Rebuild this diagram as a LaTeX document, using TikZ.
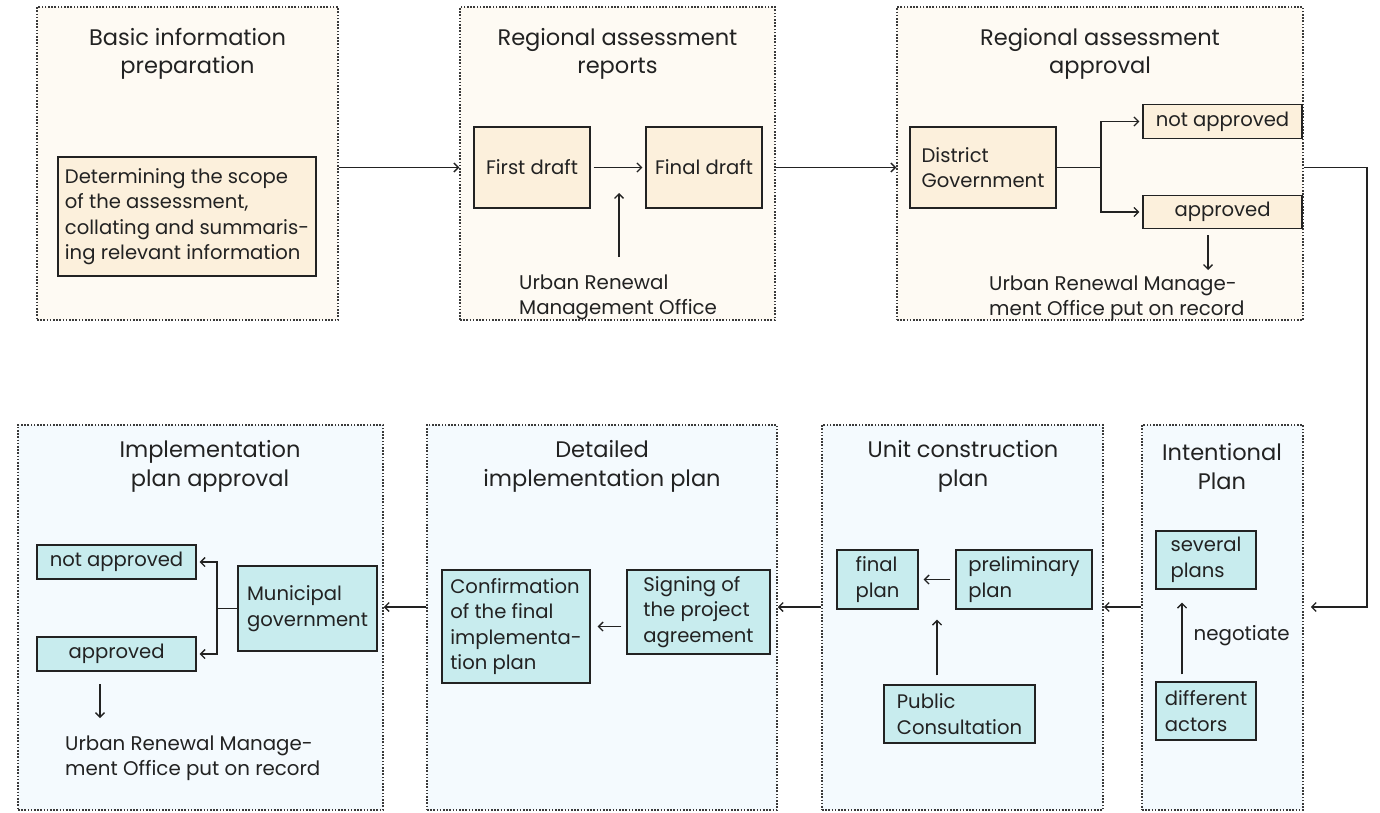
\documentclass[tikz,border=0pt]{standalone}
\usepackage{fontspec}
\setmainfont{Poppins}
\usetikzlibrary{arrows.meta,calc}
\definecolor{panelwarm}{HTML}{FEFAF3}
\definecolor{boxwarm}{HTML}{FCF0DC}
\definecolor{panelcool}{HTML}{F4FAFE}
\definecolor{boxcool}{HTML}{C8ECEE}
\definecolor{ink}{HTML}{222222}
\definecolor{dotink}{HTML}{3A3A3A}
\tikzset{
  panel/.style={draw=dotink, line width=1.5pt, dash pattern=on 1.6pt off 1.6pt,
    inner sep=0pt, minimum width=#1},
  warmpanel/.style={panel=#1, fill=panelwarm, minimum height=313pt},
  coolpanel/.style={panel=#1, fill=panelcool, minimum height=385pt},
  ptitle/.style={align=center, text=ink, font=\fontsize{22.5}{28.5}\selectfont, inner sep=0pt},
  boxbase/.style={draw=ink, line width=1.3pt, align=left, text=ink,
    font=\fontsize{19.6}{25.5}\selectfont, inner sep=0pt},
  warmbox/.style={boxbase, fill=boxwarm},
  coolbox/.style={boxbase, fill=boxcool},
  note/.style={align=left, text=ink, font=\fontsize{19.8}{25}\selectfont, inner sep=0pt},
  arr/.style={draw=ink, line width=1.3pt, -{Straight Barb[length=4.5pt,width=9pt]}},
  link/.style={draw=ink, line width=1.3pt},
}
\begin{document}
\begin{tikzpicture}[x=1pt,y=-1pt]
\useasboundingbox (0,0) rectangle (1380,812);

% ---- upper row of stages ----
\node[warmpanel=301pt] (p1) at (187.5,163.5) {};
\node[warmpanel=315pt] (p2) at (617.5,163.5) {};
\node[warmpanel=406pt] (p3) at (1100,163.5) {};

\node[ptitle] (t1) at (187.5,54) {Basic information\\preparation};
\node[ptitle] (t2) at (617.5,54) {Regional assessment\\reports};
\node[ptitle] (t3) at (1100,54) {Regional assessment\\approval};

\node[warmbox, minimum width=258pt, minimum height=119pt] (scope) at (187,216.5)
  {Determining the scope\\of the assessment,\\collating and summaris-\\ing relevant information};

\node[warmbox, minimum width=116pt, minimum height=81pt] (first) at (532,167.5) {First draft};
\node[warmbox, minimum width=116pt, minimum height=81pt] (final) at (704,167.5) {Final draft};
\node[note, anchor=west] (urmo) at (519,297.5) {Urban Renewal\\Management Office};

\node[warmbox, minimum width=146pt, minimum height=81pt] (dg) at (983,167.5) {District\\Government};
\node[warmbox, minimum width=159pt, minimum height=34pt] (na1) at (1222.5,121.5) {not approved};
\node[warmbox, minimum width=159pt, minimum height=33pt] (ap1) at (1222.5,212) {approved};
\node[note, anchor=west] (rec1) at (989,298) {Urban Renewal Manage-\\ment Office put on record};

% ---- lower row of stages ----
\node[coolpanel=365pt] (qa) at (200.5,617.5) {};
\node[coolpanel=350pt] (qb) at (602,617.5) {};
\node[coolpanel=281pt] (qc) at (962.5,617.5) {};
\node[coolpanel=161pt] (qd) at (1222.5,617.5) {};

\node[ptitle] (ta) at (210,466.5) {Implementation\\plan approval};
\node[ptitle] (tb) at (602,466.5) {Detailed\\implementation plan};
\node[ptitle] (tc) at (963,466.5) {Unit construction\\plan};
\node[ptitle] (td) at (1222,466.5) {Intentional\\Plan};

\node[coolbox, minimum width=100pt, minimum height=58pt] (sev) at (1206,560) {several\\plans};
\node[coolbox, minimum width=100pt, minimum height=58pt] (act) at (1206,711) {different\\actors};

\node[coolbox, minimum width=81pt, minimum height=59pt] (fp) at (877.5,579.5) {final\\plan};
\node[coolbox, minimum width=136pt, minimum height=59pt] (pp) at (1024,579.5) {preliminary\\plan};
\node[coolbox, minimum width=151pt, minimum height=58pt] (pc) at (959.5,714) {Public\\Consultation};

\node[coolbox, minimum width=148pt, minimum height=113pt] (conf) at (516,626.5)
  {Confirmation\\of the final\\implementa-\\tion plan};
\node[coolbox, minimum width=143pt, minimum height=84pt] (sign) at (698.5,612)
  {Signing of\\the project\\agreement};

\node[coolbox, minimum width=139pt, minimum height=85pt] (mg) at (307.5,608.5) {Municipal\\government};
\node[coolbox, minimum width=159pt, minimum height=34pt] (na2) at (116.5,562) {not approved};
\node[coolbox, minimum width=159pt, minimum height=34pt] (ap2) at (116.5,654) {approved};
\node[note, anchor=west] (rec2) at (65,758) {Urban Renewal Manage-\\ment Office put on record};

% ---- helper points for connectors ----
\coordinate (lowrow) at (0,607);
\coordinate (return) at (1367,0);
\coordinate (fork1) at (1101,167.5);
\coordinate (fork2) at (217,608.5);
\coordinate (urmoA) at (619,257);
\coordinate (urmoB) at (619,193);
\coordinate (recA) at (1208,235);
\coordinate (recB) at (1208,270);
\coordinate (negx) at (1182,0);
\coordinate (pcx) at (937,0);
\coordinate (recC) at (100,684);
\coordinate (recD) at (100,718);

% ---- connectors, upper row ----
\draw[arr] (p1.east |- first) -- (p2.west |- first);
\draw[arr, shorten <=3pt, shorten >=3pt] (first) -- (final);
\draw[arr] (urmoA) -- (urmoB);
\draw[arr] (p2.east |- first) -- (p3.west |- first);
\draw[link] (dg.east) -- (fork1);
\draw[arr, shorten >=3pt] (fork1) |- (na1.west);
\draw[arr, shorten >=3pt] (fork1) |- (ap1.west);
\draw[arr] (recA) -- (recB);

% ---- the turn down to the lower row ----
\draw[arr, shorten >=7pt] (p3.east |- dg) -| (return |- lowrow) -- (qd.east |- lowrow);

% ---- connectors, lower row ----
\draw[arr, shorten <=7pt, shorten >=13pt] (act.north -| negx) -- (sev.south -| negx)
  node[midway, right, xshift=11pt, note] {negotiate};
\draw[arr] (qd.west |- lowrow) -- (qc.east |- lowrow);
\draw[arr, shorten <=5pt, shorten >=5pt] (pp.west) -- (fp.east);
\draw[arr, shorten <=9pt, shorten >=10pt] (pc.north -| pcx) -- (fp.south -| pcx);
\draw[arr] (qc.west |- lowrow) -- (qb.east |- lowrow);
\draw[arr, shorten <=5pt, shorten >=7pt] (sign.west |- conf) -- (conf.east);
\draw[arr] (qb.west |- lowrow) -- (qa.east |- lowrow);
\draw[link] (mg.west) -- (fork2);
\draw[arr, shorten >=3pt] (fork2) |- (na2.east);
\draw[arr, shorten >=3pt] (fork2) |- (ap2.east);
\draw[arr] (recC) -- (recD);
\end{tikzpicture}
\end{document}
